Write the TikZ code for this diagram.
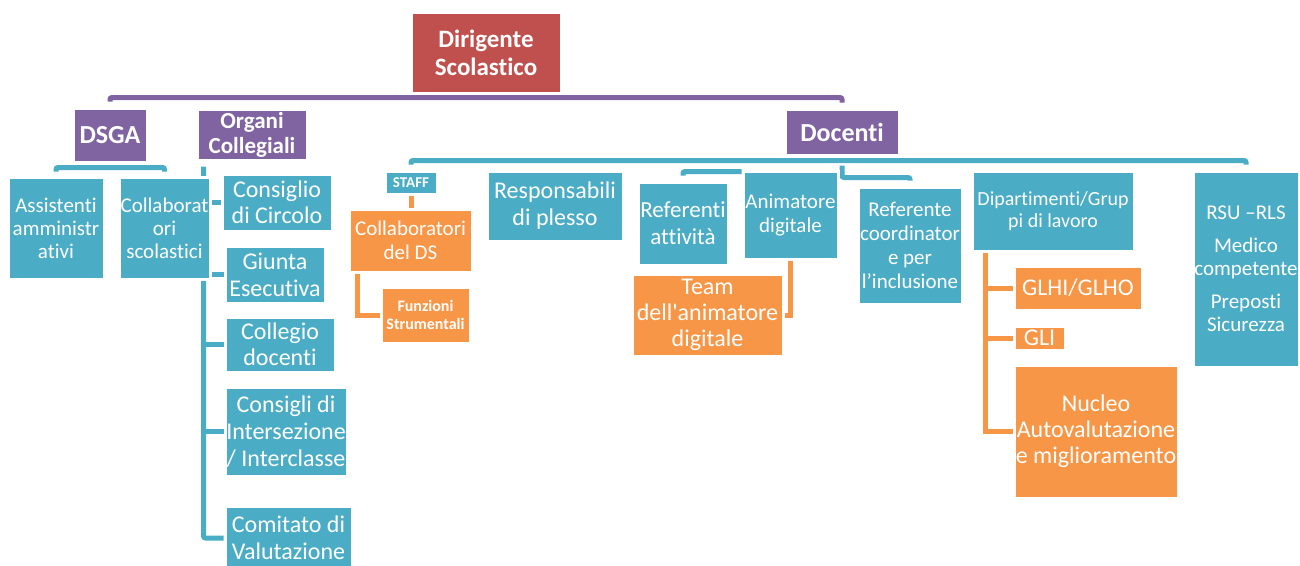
\documentclass[tikz,border=0pt]{standalone}
\usepackage{fontspec}
\setmainfont{Carlito}[Ligatures={TeXOff,NoCommon}]
\definecolor{rossods}{HTML}{C0504D}
\definecolor{viola}{HTML}{8064A2}
\definecolor{azzurro}{HTML}{4BACC6}
\definecolor{arancio}{HTML}{F79646}
\newcommand\corpo[2]{\fontsize{#1}{#2}\selectfont}
\pgfdeclarelayer{sfondo}
\pgfsetlayers{sfondo,main}
\begin{document}
\begin{tikzpicture}[x=1pt,y=-1pt,
    casella/.style={draw=white,line width=3pt,text=white,align=center,inner sep=0pt},
    rosso/.style={casella,fill=rossods},
    lilla/.style={casella,fill=viola},
    blu/.style={casella,fill=azzurro},
    oro/.style={casella,fill=arancio},
    barraviola/.style={draw=viola,line width=5pt,rounded corners=2pt},
    barrablu/.style={draw=azzurro,line width=5pt,rounded corners=2pt},
    barraoro/.style={draw=arancio,line width=5pt}]
\useasboundingbox (0,0) rectangle (1300,565);
% vertice
\node[rosso,minimum width=150,minimum height=81,font=\corpo{25}{28}\bfseries] (ds) at (486,52.5) {Dirigente\\Scolastico};
\node[lilla,minimum width=74,minimum height=54,font=\corpo{26}{30}\bfseries] (dsga) at (110,135) {DSGA};
\node[lilla,minimum width=110,minimum height=51,font=\corpo{23}{25}\bfseries] (organi) at (252,134.5) {Organi\\Collegiali};
\node[lilla,minimum width=114,minimum height=46,font=\corpo{26}{30}\bfseries] (docenti) at (842,132) {Docenti};
% DSGA
\node[blu,minimum width=96,minimum height=102,font=\corpo{21}{23}] (assist) at (56,228) {Assistenti\\amministr\\ativi};
\node[blu,minimum width=91,minimum height=102,font=\corpo{21}{23}] (collsc) at (164.5,228) {Collaborat\\ori\\scolastici};
% organi collegiali
\node[blu,minimum width=110,minimum height=57,font=\corpo{24}{26}] (consiglio) at (277,202.5) {Consiglio\\di Circolo};
\node[blu,minimum width=100,minimum height=57,font=\corpo{24}{27}] (giunta) at (275,274.5) {Giunta\\Esecutiva};
\node[blu,minimum width=110,minimum height=55,font=\corpo{24}{26}] (collegio) at (280,344.5) {Collegio\\docenti};
\node[blu,minimum width=122,minimum height=89,font=\corpo{24}{27}] (consigli) at (286,431.5) {Consigli di\\Intersezione\\/ Interclasse};
\node[blu,minimum width=127,minimum height=64,font=\corpo{24}{27}] (comitato) at (288.5,538) {Comitato di\\Valutazione};
% docenti
\node[blu,minimum width=52,minimum height=23,font=\corpo{15}{17}\bfseries] (staff) at (411,182.5) {STAFF};
\node[oro,minimum width=123,minimum height=63,font=\corpo{21}{24}] (collds) at (410.5,240.5) {Collaboratori\\del DS};
\node[oro,minimum width=89,minimum height=56,font=\corpo{16}{18}\bfseries] (funz) at (425.5,315) {Funzioni\\Strumentali};
\node[blu,minimum width=136,minimum height=70,font=\corpo{24}{27}] (resp) at (555,206) {Responsabili\\di plesso};
\node[blu,minimum width=90,minimum height=83,font=\corpo{23}{27}] (refatt) at (683,223.5) {Referenti\\attività};
\node[blu,minimum width=95,minimum height=88,font=\corpo{21}{24}] (anim) at (790.5,215) {Animatore\\digitale};
\node[oro,minimum width=151,minimum height=82,font=\corpo{24}{26}] (team) at (707.5,315) {Team\\dell'animatore\\digitale};
\node[blu,minimum width=104,minimum height=117,font=\corpo{21}{24}] (refincl) at (910,245.5) {Referente\\coordinator\\e per\\l’inclusione};
\node[blu,minimum width=162,minimum height=80,font=\corpo{20}{22}] (dip) at (1053,211) {Dipartimenti/Grup\\pi di lavoro};
\node[oro,minimum width=128,minimum height=44,font=\corpo{24}{26}] (glhi) at (1078,288) {GLHI/GLHO};
\node[oro,minimum width=51,minimum height=24,font=\corpo{24}{26}] (gli) at (1039.5,338) {GLI};
\node[oro,minimum width=164,minimum height=133,font=\corpo{24}{26}] (nucleo) at (1096,431.5) {Nucleo\\Autovalutazione\\e miglioramento};
\node[blu,minimum width=106,minimum height=196,font=\corpo{21}{23}] (rsu) at (1246,269) {RSU –RLS\\[10pt]Medico\\competente\\[10pt]Preposti\\Sicurezza};
% collegamenti
\begin{pgfonlayer}{sfondo}
\draw[barraviola] ([yshift=5pt]dsga.north) |- ([yshift=9pt]dsga.north -| docenti.north) -- ([yshift=5pt]docenti.north);
\draw[barrablu] ([yshift=4pt]assist.north) |- ([yshift=8pt]collsc.north) -- ([yshift=4pt]collsc.north);
\draw[barrablu] ([yshift=5pt]staff.north) |- ([yshift=9pt]rsu.north) -- ([yshift=5pt]rsu.north);
\coordinate (ocx) at ([xshift=8pt,yshift=-5pt]organi.south west);
\draw[barrablu] (ocx) |- (comitato.west);
\foreach \n in {consiglio,giunta,collegio,consigli}
  \draw[barrablu] (ocx |- \n.west) -- (\n.west);
\draw[barraoro] (staff.south) -- (staff.south |- collds.north);
\draw[barraoro] ([xshift=10pt]collds.south west) |- (funz.west);
\draw[barrablu] ([yshift=5pt]refatt.north) |- ([yshift=9pt]refatt.north -| anim.west);
\draw[barraoro] (anim.south) |- (team.east);
\draw[barrablu] ([yshift=-9pt]docenti.south) |- ([yshift=8pt]refincl.north) -- ([yshift=5pt]refincl.north);
\coordinate (dipx) at ([xshift=15pt]dip.south west);
\draw[barraoro] (dipx) |- (nucleo.west);
\foreach \n in {glhi,gli}
  \draw[barraoro] (dipx |- \n.west) -- (\n.west);
\end{pgfonlayer}
\end{tikzpicture}
\end{document}
